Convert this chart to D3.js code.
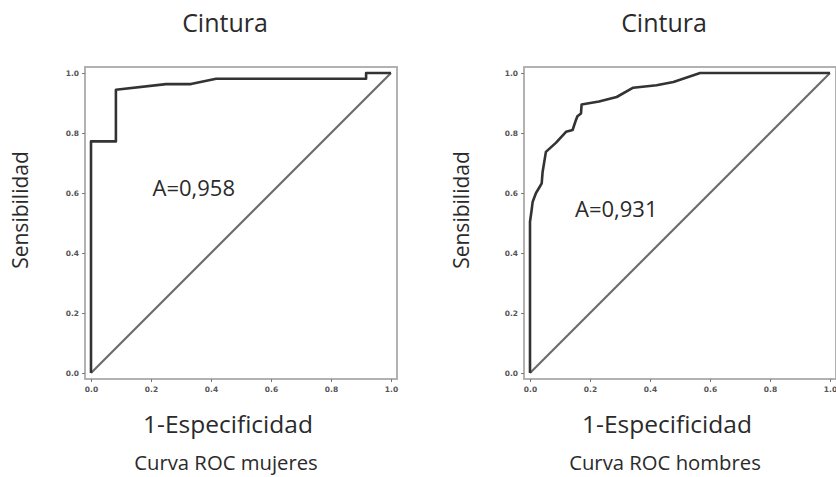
<!DOCTYPE html>
<html>
<head>
<meta charset="utf-8">
<title>Curvas ROC cintura</title>
<script type="text/javascript" src="https://cdn.jsdelivr.net/npm/d3@7"></script>
<style>
  body { margin: 0; background: #fff; }
  text { font-family: "Open Sans", sans-serif; fill: #2a2a2a; }
  .tick text { font-family: "DejaVu Sans", sans-serif; font-weight: bold; font-size: 7.5px; fill: #555; }
</style>
</head>
<body>
<script type="text/javascript">
var width = 836
var height = 477

// datos
var ticks = [0, 0.2, 0.4, 0.6, 0.8, 1.0]

var mujeresFpr = [0, 0, 0.083, 0.083, 0.25, 0.333, 0.417, 0.917, 0.917, 1]
var mujeresTpr = [0, 0.772, 0.772, 0.944, 0.963, 0.963, 0.981, 0.981, 1, 1]

var hombresFpr = [0, 0, 0.005, 0.009, 0.02, 0.035, 0.039, 0.042, 0.053, 0.087, 0.12, 0.142, 0.152, 0.158, 0.17, 0.172, 0.23, 0.289, 0.344, 0.422, 0.478, 0.567, 1]
var hombresTpr = [0, 0.504, 0.54, 0.571, 0.6, 0.625, 0.632, 0.67, 0.737, 0.768, 0.804, 0.81, 0.84, 0.856, 0.865, 0.895, 0.905, 0.92, 0.951, 0.959, 0.97, 1, 1]

var charts = [
  {left: 91, title: "Cintura", area: "A=0,958", areaX: 0.205, areaY: 0.59, caption: "Curva ROC mujeres", fpr: mujeresFpr, tpr: mujeresTpr, titleX: 225, labelX: 28},
  {left: 530, title: "Cintura", area: "A=0,931", areaX: 0.15, areaY: 0.52, caption: "Curva ROC hombres", fpr: hombresFpr, tpr: hombresTpr, titleX: 664, labelX: 469}
]

var svg = d3.select("body").append("svg")
  .attr("width", width)
  .attr("height", height)

var plotTop = 73, size = 300, pad = 6

charts.forEach(function(c){
  var x = d3.scaleLinear().domain([0,1]).range([c.left, c.left+size])
  var y = d3.scaleLinear().domain([0,1]).range([plotTop+size, plotTop])
  var g = svg.append("g")

  g.append("rect")
    .attr("x", c.left-pad).attr("y", plotTop-pad)
    .attr("width", size+2*pad).attr("height", size+2*pad)
    .attr("fill", "none").attr("stroke", "#aaa").attr("stroke-width", 1.8)

  var ya = g.append("g").attr("transform", "translate(" + (c.left-pad) + ",0)")
    .call(d3.axisLeft(y).tickValues(ticks).tickFormat(d3.format(".1f")).tickSize(3).tickPadding(3))
  ya.select(".domain").remove()
  ya.selectAll("line").attr("stroke", "#777")

  var xa = g.append("g").attr("transform", "translate(0," + (plotTop+size+pad) + ")")
    .call(d3.axisBottom(x).tickValues(ticks).tickFormat(d3.format(".1f")).tickSize(3).tickPadding(5))
  xa.select(".domain").remove()
  xa.selectAll("line").attr("stroke", "#777")

  // diagonal de referencia
  g.append("path")
    .attr("d", d3.line().x(function(d){ return x(d) }).y(function(d){ return y(d) })([0,1]))
    .attr("fill", "none").attr("stroke", "#6a6a6a").attr("stroke-width", 2.1)

  var pts = c.fpr.map(function(f,i){ return [f, c.tpr[i]] })
  g.append("path")
    .attr("d", d3.line().x(function(d){ return x(d[0]) }).y(function(d){ return y(d[1]) })(pts))
    .attr("fill", "none").attr("stroke", "#333").attr("stroke-width", 2.6)
    .attr("stroke-linejoin", "round")

  g.append("text").attr("x", x(c.areaX)).attr("y", y(c.areaY))
    .style("font-size", "22px").text(c.area)

  g.append("text").attr("x", c.titleX).attr("y", 32)
    .attr("text-anchor", "middle").style("font-size", "25px").text(c.title)

  g.append("text").attr("transform", "translate(" + c.labelX + "," + (plotTop+137) + ") rotate(-90)")
    .attr("text-anchor", "middle").style("font-size", "21px").text("Sensibilidad")

  g.append("text").attr("x", c.titleX+3).attr("y", 433)
    .attr("text-anchor", "middle").style("font-size", "24.5px").text("1-Especificidad")

  g.append("text").attr("x", c.titleX+1).attr("y", 470)
    .attr("text-anchor", "middle").style("font-size", "20.3px").text(c.caption)
})
</script>
</body>
</html>
